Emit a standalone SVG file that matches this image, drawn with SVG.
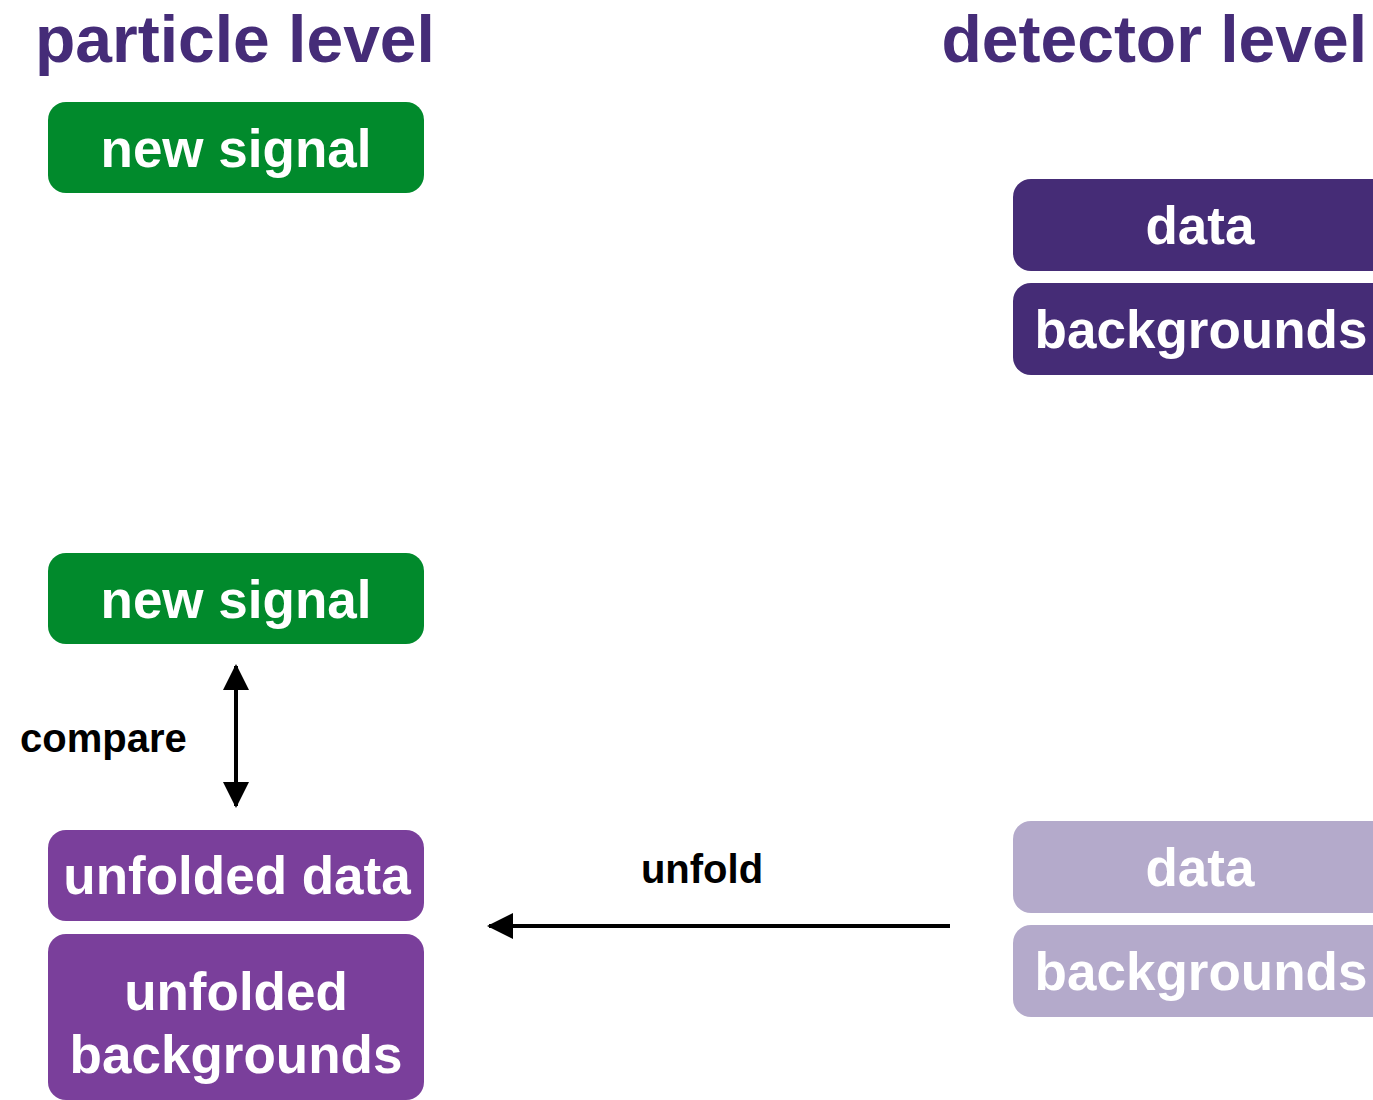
<svg xmlns="http://www.w3.org/2000/svg" width="1373" height="1100" viewBox="0 0 1373 1100">
  <style>
    .title { font-family: "Liberation Sans", Arial, sans-serif; font-weight: bold; font-size: 66px; fill: #452c78; }
    .box-label { font-family: "Liberation Sans", Arial, sans-serif; font-weight: bold; font-size: 53px; fill: #ffffff; text-anchor: middle; }
    .edge-label { font-family: "Liberation Sans", Arial, sans-serif; font-weight: bold; font-size: 40px; fill: #000000; }
    .signal { fill: #018a2c; }
    .detector { fill: #452c76; }
    .detector-faded { fill: #b4aacb; }
    .unfolded { fill: #7a3f9b; }
    .connector { stroke: #000000; stroke-width: 4; fill: none; }
  </style>
  <defs>
    <marker id="arrowhead" viewBox="0 0 26 26" refX="24" refY="13" markerWidth="26" markerHeight="26" markerUnits="userSpaceOnUse" orient="auto-start-reverse">
      <path d="M0,0 L26,13 L0,26 Z" fill="#000000"/>
    </marker>
  </defs>

  <rect width="1373" height="1100" fill="#ffffff"/>

  <!-- column headings -->
  <text class="title" x="35" y="62">particle level</text>
  <text class="title" x="1367" y="62" text-anchor="end">detector level</text>

  <!-- particle level nodes -->
  <g id="new-signal-top">
    <rect class="signal" x="48" y="102" width="376" height="91" rx="18"/>
    <text class="box-label" x="236" y="167">new signal</text>
  </g>
  <g id="new-signal-bottom">
    <rect class="signal" x="48" y="553" width="376" height="91" rx="18"/>
    <text class="box-label" x="236" y="618">new signal</text>
  </g>
  <g id="unfolded-data">
    <rect class="unfolded" x="48" y="830" width="376" height="91" rx="18"/>
    <text class="box-label" x="237" y="894">unfolded data</text>
  </g>
  <g id="unfolded-backgrounds">
    <rect class="unfolded" x="48" y="934" width="376" height="166" rx="18"/>
    <text class="box-label" x="236" y="1010">unfolded</text>
    <text class="box-label" x="236" y="1073">backgrounds</text>
  </g>

  <!-- detector level nodes -->
  <g id="detector-data">
    <rect class="detector" x="1013" y="179" width="380" height="92" rx="18"/>
    <text class="box-label" x="1200" y="244">data</text>
  </g>
  <g id="detector-backgrounds">
    <rect class="detector" x="1013" y="283" width="380" height="92" rx="18"/>
    <text class="box-label" x="1201" y="348">backgrounds</text>
  </g>
  <g id="detector-data-faded">
    <rect class="detector-faded" x="1013" y="821" width="380" height="92" rx="18"/>
    <text class="box-label" x="1200" y="886">data</text>
  </g>
  <g id="detector-backgrounds-faded">
    <rect class="detector-faded" x="1013" y="925" width="380" height="92" rx="18"/>
    <text class="box-label" x="1201" y="990">backgrounds</text>
  </g>

  <!-- connectors -->
  <g id="connectors">
    <line class="connector" x1="236" y1="666" x2="236" y2="806" marker-start="url(#arrowhead)" marker-end="url(#arrowhead)"/>
    <text class="edge-label" x="20" y="752">compare</text>
    <line class="connector" x1="950" y1="926" x2="489" y2="926" marker-end="url(#arrowhead)"/>
    <text class="edge-label" x="702" y="883" text-anchor="middle">unfold</text>
  </g>
</svg>
